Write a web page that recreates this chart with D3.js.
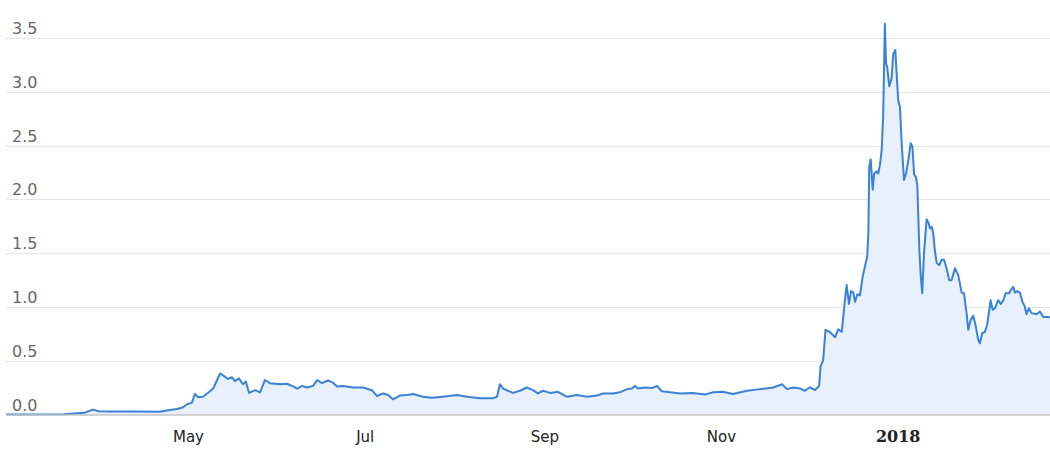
<!DOCTYPE html>
<html>
<head>
<meta charset="utf-8">
<script src="https://cdn.jsdelivr.net/npm/d3@7"></script>
<style>
	html, body { margin: 0; padding: 0; background: #fff; }
	#root { width: 1050px; height: 454px; }
</style>
</head>
<body>
<div id="root"></div>
<script>
// price series, x read as days after the start date
const startDate = "2017-02-27";
const dayOffsets = [
	0, 5, 20, 27, 30, 32, 36, 44, 53, 56, 59, 61, 62.5, 64.2, 65.2, 66.3, 68, 70.4, 71.5, 73.9,
	75.3, 76.6, 78, 79, 80.4, 81.8, 82.8, 83.9, 86, 87.7, 89.4, 91.1, 94.6, 97, 99.1, 100.5,
	102.2, 103.9, 106, 107.4, 109.1, 111.2, 112.9, 114.3, 116.3, 119.8, 123.2, 126.3, 128.1,
	130.1, 131.9, 133.6, 136, 138.4, 140.5, 143.9, 147, 150.8, 155.7, 159.1, 163.6, 168.1,
	169.5, 170.5, 171.6, 175, 177.4, 179.8, 181.9, 183.6, 185.4, 187.8, 190.5, 193.6, 197.1,
	200.6, 204, 206.1, 209.5, 211.9, 214.4, 216.1, 217.1, 218.2, 220.6, 223, 224.7, 226.4,
	229.2, 232.7, 237.1, 241.3, 244, 247.5, 250.9, 255.8, 260.3, 264.8, 267.9, 269.6, 271.7,
	274.1, 275.8, 277.5, 279.3, 280.7, 281.2, 282.1, 282.9, 284.4, 286.2, 287.3, 288.5, 289.6,
	290.2, 291.0, 291.7, 292.5, 293.1, 293.9, 294.8, 295.7, 296.5, 297.3, 297.7, 298.0, 298.5,
	299.2, 299.7, 300.6, 301.1, 301.7, 302.3, 302.8, 303.4, 303.8, 304.2, 304.9, 305.7, 306.3,
	307.0, 307.5, 308.0, 308.6, 309.2, 310.0, 310.7, 311.5, 312.3, 312.9, 313.5, 314.1, 314.6,
	315.3, 315.8, 316.3, 316.9, 317.8, 318.5, 319.0, 319.6, 320.1, 320.7, 321.3, 322.2, 323.0,
	323.8, 324.7, 325.6, 326.4, 327.6, 328.7, 329.9, 330.7, 331.6, 332.2, 333.0, 333.9, 334.8,
	335.6, 336.2, 337.0, 337.9, 338.7, 339.9, 340.6, 341.4, 342.5, 343.4, 344.3, 345.1, 346.3,
	346.9, 347.7, 348.3, 349.1, 350.0, 350.9, 351.7, 352.3, 353.1, 354.0, 355.8, 356.9, 358.1,
	359.8, 360.4
];
const prices = [
	0.005, 0.005, 0.008, 0.02, 0.05, 0.035, 0.033, 0.033, 0.03, 0.045, 0.055, 0.07, 0.10, 0.115, 0.195, 0.165, 0.17, 0.22, 0.245, 0.385,
	0.36, 0.335, 0.35, 0.315, 0.34, 0.285, 0.31, 0.205, 0.23, 0.21, 0.325, 0.295, 0.285, 0.29, 0.265, 0.245,
	0.27, 0.255, 0.27, 0.325, 0.295, 0.32, 0.30, 0.265, 0.27, 0.255, 0.255, 0.23, 0.175,
	0.20, 0.185, 0.145, 0.18, 0.185, 0.195, 0.17, 0.16, 0.17, 0.185, 0.17, 0.155, 0.155,
	0.17, 0.285, 0.245, 0.205, 0.225, 0.255, 0.23, 0.20, 0.225, 0.205, 0.215, 0.17, 0.185,
	0.17, 0.18, 0.20, 0.20, 0.21, 0.24, 0.245, 0.27, 0.245, 0.255, 0.25, 0.27, 0.22,
	0.21, 0.20, 0.205, 0.19, 0.21, 0.215, 0.195, 0.225, 0.24, 0.255, 0.285, 0.24, 0.255,
	0.245, 0.225, 0.257, 0.232, 0.27, 0.45, 0.51, 0.79, 0.77, 0.72, 0.795, 0.77, 1.065,
	1.205, 1.03, 1.15, 1.135, 1.05, 1.12, 1.11, 1.28, 1.375, 1.47, 1.69, 2.30, 2.37,
	2.09, 2.24, 2.26, 2.24, 2.32, 2.46, 2.77, 3.63, 3.26, 3.23, 3.05, 3.12, 3.35,
	3.385, 3.15, 2.92, 2.86, 2.52, 2.18, 2.24, 2.365, 2.52, 2.49, 2.23, 2.21, 2.13,
	1.53, 1.28, 1.13, 1.50, 1.815, 1.78, 1.73, 1.745, 1.685, 1.515, 1.41, 1.39, 1.44,
	1.44, 1.36, 1.25, 1.25, 1.36, 1.30, 1.135, 1.13, 0.945, 0.79, 0.88, 0.92, 0.82,
	0.70, 0.665, 0.76, 0.77, 0.835, 1.065, 0.975, 0.99, 1.065, 1.03, 1.065, 1.13, 1.13,
	1.16, 1.19, 1.135, 1.15, 1.135, 1.05, 1.005, 0.935, 0.99, 0.945, 0.935, 0.96, 0.91,
	0.91, 0.905
];
const yTicks = [0, 0.5, 1, 1.5, 2, 2.5, 3, 3.5];
const xTickDates = ["2017-05-01", "2017-07-01", "2017-09-01", "2017-11-01", "2018-01-01", "2018-03-01"];
const xTickLabels = ["May", "Jul", "Sep", "Nov", "2018", "Mar"];

const width = 1050;
const height = 454;
const plot = { left: 6, right: 1050, top: 10, bottom: 415 };

const parseDay = d3.timeParse("%Y-%m-%d");

const makeChart = () => {
	const start = parseDay(startDate);
	const data = dayOffsets.map((d, i) => ({
		date: new Date(start.getTime() + d * 864e5),
		value: prices[i]
	}));

	const svg = d3.select("#root")
		.append("svg")
			.attr("width", width)
			.attr("height", height);

	const x = d3.scaleTime()
		.domain(d3.extent(data, d => d.date))
		.range([plot.left, plot.right]);

	const y = d3.scaleLinear()
		.domain([0, 3.5])
		.range([plot.bottom, 37.7]);

	// horizontal grid
	svg.append("g")
		.selectAll(".grid")
		.data(yTicks.slice(1))
			.enter()
		.append("line")
			.attr("class", "grid")
			.attr("x1", plot.left).attr("x2", plot.right)
			.attr("y1", d => Math.round(y(d)) + 0.5)
			.attr("y2", d => Math.round(y(d)) + 0.5)
			.style("stroke", "#e6e6e6")
			.style("stroke-width", 1);

	const area = d3.area()
		.x(d => x(d.date))
		.y0(y(0))
		.y1(d => y(d.value));

	const line = d3.line()
		.x(d => x(d.date))
		.y(d => y(d.value));

	svg.append("path")
		.datum(data)
		.attr("d", area)
		.style("fill", "#e7f0fb")
		.style("stroke", "none");

	svg.append("path")
		.datum(data)
		.attr("d", line)
		.style("fill", "none")
		.style("stroke", "#3a82d8")
		.style("stroke-width", 2)
		.style("stroke-linejoin", "round");

	// bottom axis line
	svg.append("line")
		.attr("x1", plot.left).attr("x2", plot.right)
		.attr("y1", plot.bottom).attr("y2", plot.bottom)
		.style("stroke", "#c4c4c4")
		.style("stroke-width", 1.5);

	// y labels sit above their grid lines
	svg.append("g")
		.selectAll(".ylabel")
		.data(yTicks)
			.enter()
		.append("text")
			.attr("class", "ylabel")
			.attr("x", 12)
			.attr("y", d => y(d) - 4)
			.text(d => d3.format(".1f")(d))
			.style("font-family", "'DejaVu Sans', Verdana, sans-serif")
			.style("font-size", "16px")
			.style("fill", "#666");

	svg.append("g")
		.selectAll(".xlabel")
		.data(xTickDates)
			.enter()
		.append("text")
			.attr("class", "xlabel")
			.attr("x", d => x(parseDay(d)))
			.attr("y", 442)
			.attr("text-anchor", "middle")
			.text((d, i) => xTickLabels[i])
			.style("font-family", (d, i) => xTickLabels[i] == "2018" ? "'DejaVu Serif', serif" : "'DejaVu Sans', Verdana, sans-serif")
			.style("font-weight", (d, i) => xTickLabels[i] == "2018" ? "bold" : "normal")
			.style("font-size", (d, i) => xTickLabels[i] == "2018" ? "16px" : "15px")
			.style("fill", (d, i) => i == xTickLabels.length - 1 ? "#c8900a" : "#222");
};

makeChart();
</script>
</body>
</html>
